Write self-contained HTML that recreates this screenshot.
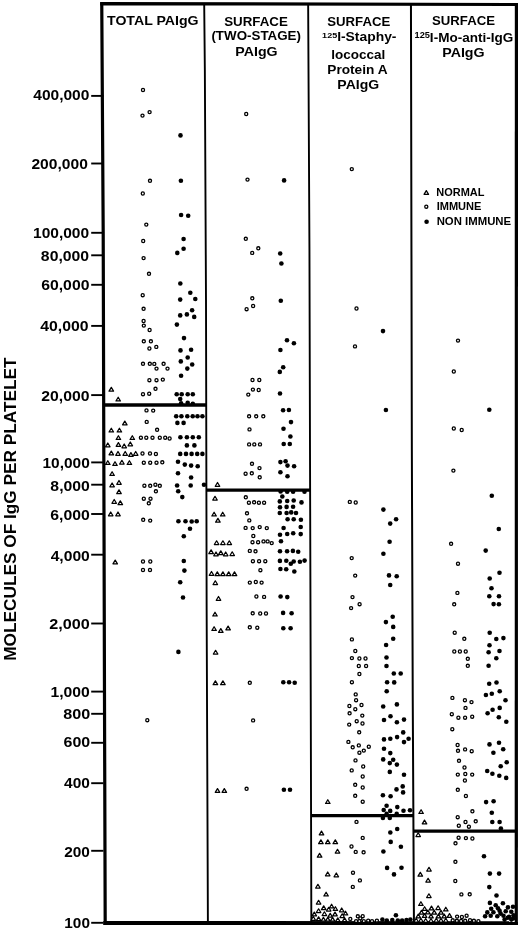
<!DOCTYPE html><html><head><meta charset="utf-8"><style>html,body{margin:0;padding:0;background:#fff;width:520px;height:930px;overflow:hidden}svg{display:block;will-change:transform}text{font-family:"Liberation Sans",sans-serif;font-weight:bold;fill:#000}</style></head><body>
<svg width="520" height="930" viewBox="0 0 520 930">
<rect width="520" height="930" fill="#fff"/>
<g fill="#000">
<polygon points="100.2,2.0 518.0,3.0 518.0,5.9 100.2,5.4"/>
<polygon points="100.15,2.3 101.60,232 102.90,700 103.60,924.9 106.80,924.9 106.10,700 104.80,232 103.35,2.3"/>
<polygon points="514.8,3.1 518.0,3.1 517.9,925 514.7,925"/>
<polygon points="103.3,921.0 517.9,921.2 517.9,925.0 103.3,924.9"/>
</g><g stroke="#000" fill="none">
<polyline points="204.2,4 204.85,70 206.0,300 206.65,610 207.9,923" stroke-width="1.9"/>
<polyline points="308.15,4 309.45,250 310.0,450 310.75,700 311.35,923" stroke-width="1.9"/>
<polyline points="410.95,4 411.85,450 412.75,700 413.95,923" stroke-width="2.0"/>
<line x1="103" y1="405.0" x2="206.3" y2="405.0" stroke-width="3.5"/>
<line x1="206" y1="490.1" x2="310.2" y2="490.1" stroke-width="3.4"/>
<line x1="311" y1="815.6" x2="413.3" y2="815.6" stroke-width="3.3"/>
<line x1="413" y1="831.1" x2="516" y2="831.2" stroke-width="3.2"/>
</g>
<g stroke="#000" stroke-width="1.9">
<line x1="91.2" y1="95.9" x2="103.5" y2="95.9"/>
<line x1="91.2" y1="163.5" x2="103.5" y2="163.5"/>
<line x1="91.2" y1="232.8" x2="103.5" y2="232.8"/>
<line x1="91.2" y1="255.3" x2="103.5" y2="255.3"/>
<line x1="91.2" y1="284.8" x2="103.5" y2="284.8"/>
<line x1="91.2" y1="325.9" x2="103.5" y2="325.9"/>
<line x1="91.2" y1="395.1" x2="103.5" y2="395.1"/>
<line x1="91.2" y1="462.4" x2="103.5" y2="462.4"/>
<line x1="91.2" y1="484.7" x2="103.5" y2="484.7"/>
<line x1="91.2" y1="514.0" x2="103.5" y2="514.0"/>
<line x1="91.2" y1="554.7" x2="103.5" y2="554.7"/>
<line x1="91.2" y1="623.5" x2="103.5" y2="623.5"/>
<line x1="91.2" y1="691.6" x2="103.5" y2="691.6"/>
<line x1="91.2" y1="713.8" x2="103.5" y2="713.8"/>
<line x1="91.2" y1="742.8" x2="103.5" y2="742.8"/>
<line x1="91.2" y1="783.2" x2="103.5" y2="783.2"/>
<line x1="91.2" y1="850.8" x2="103.5" y2="850.8"/>
<line x1="91.2" y1="922.8" x2="103.5" y2="922.8"/>
</g>
<text x="33.27" y="100.47" font-size="15.0" textLength="56.14" lengthAdjust="spacingAndGlyphs">400,000</text>
<text x="31.45" y="168.73" font-size="15.0" textLength="56.41" lengthAdjust="spacingAndGlyphs">200,000</text>
<text x="33.03" y="237.98" font-size="15.0" textLength="56.13" lengthAdjust="spacingAndGlyphs">100,000</text>
<text x="40.89" y="260.52" font-size="15.0" textLength="48.26" lengthAdjust="spacingAndGlyphs">80,000</text>
<text x="41.21" y="289.88" font-size="15.0" textLength="48.24" lengthAdjust="spacingAndGlyphs">60,000</text>
<text x="40.26" y="331.03" font-size="15.0" textLength="48.29" lengthAdjust="spacingAndGlyphs">40,000</text>
<text x="41.25" y="400.68" font-size="15.0" textLength="48.20" lengthAdjust="spacingAndGlyphs">20,000</text>
<text x="42.53" y="467.93" font-size="15.0" textLength="47.30" lengthAdjust="spacingAndGlyphs">10,000</text>
<text x="50.39" y="490.97" font-size="15.0" textLength="39.44" lengthAdjust="spacingAndGlyphs">8,000</text>
<text x="50.31" y="519.88" font-size="15.0" textLength="39.52" lengthAdjust="spacingAndGlyphs">6,000</text>
<text x="50.67" y="560.72" font-size="15.0" textLength="39.16" lengthAdjust="spacingAndGlyphs">4,000</text>
<text x="49.33" y="629.12" font-size="15.0" textLength="40.51" lengthAdjust="spacingAndGlyphs">2,000</text>
<text x="50.52" y="697.27" font-size="15.0" textLength="39.31" lengthAdjust="spacingAndGlyphs">1,000</text>
<text x="63.27" y="718.83" font-size="15.0" textLength="26.99" lengthAdjust="spacingAndGlyphs">800</text>
<text x="63.60" y="747.27" font-size="15.0" textLength="26.65" lengthAdjust="spacingAndGlyphs">600</text>
<text x="64.07" y="788.33" font-size="15.0" textLength="25.76" lengthAdjust="spacingAndGlyphs">400</text>
<text x="64.16" y="857.12" font-size="15.0" textLength="25.67" lengthAdjust="spacingAndGlyphs">200</text>
<text x="64.34" y="927.72" font-size="15.0" textLength="25.59" lengthAdjust="spacingAndGlyphs">100</text>
<text transform="rotate(-90)" x="-660.76" y="16.1" font-size="16.8" textLength="303.25" lengthAdjust="spacingAndGlyphs">MOLECULES OF IgG PER PLATELET</text>
<text x="107.02" y="24.80" font-size="13.0" textLength="91.55" lengthAdjust="spacingAndGlyphs">TOTAL PAIgG</text>
<text x="224.20" y="25.60" font-size="13.2" textLength="63.71" lengthAdjust="spacingAndGlyphs">SURFACE</text>
<text x="211.43" y="40.30" font-size="13.0" textLength="89.53" lengthAdjust="spacingAndGlyphs">(TWO-STAGE)</text>
<text x="235.34" y="55.50" font-size="13.2" textLength="42.26" lengthAdjust="spacingAndGlyphs">PAIgG</text>
<text x="327.20" y="25.60" font-size="13.2" textLength="63.10" lengthAdjust="spacingAndGlyphs">SURFACE</text>
<text x="322.14" y="37.60" font-size="7.6" textLength="15.02" lengthAdjust="spacingAndGlyphs">125</text>
<text x="337.16" y="40.70" font-size="12.3" textLength="59.30" lengthAdjust="spacingAndGlyphs">I-Staphy-</text>
<text x="331.26" y="58.50" font-size="12.6" textLength="53.98" lengthAdjust="spacingAndGlyphs">lococcal</text>
<text x="327.28" y="73.70" font-size="12.6" textLength="60.30" lengthAdjust="spacingAndGlyphs">Protein A</text>
<text x="337.35" y="88.80" font-size="12.6" textLength="41.85" lengthAdjust="spacingAndGlyphs">PAIgG</text>
<text x="432.00" y="25.40" font-size="13.0" textLength="63.00" lengthAdjust="spacingAndGlyphs">SURFACE</text>
<text x="414.52" y="38.40" font-size="8.2" textLength="15.44" lengthAdjust="spacingAndGlyphs">125</text>
<text x="429.89" y="41.60" font-size="13.4" textLength="83.36" lengthAdjust="spacingAndGlyphs">I-Mo-anti-IgG</text>
<text x="442.24" y="56.50" font-size="13.0" textLength="42.37" lengthAdjust="spacingAndGlyphs">PAIgG</text>
<text x="436.26" y="195.80" font-size="11.4" textLength="48.18" lengthAdjust="spacingAndGlyphs">NORMAL</text>
<text x="436.65" y="210.30" font-size="11.4" textLength="44.79" lengthAdjust="spacingAndGlyphs">IMMUNE</text>
<text x="436.63" y="225.30" font-size="11.4" textLength="74.53" lengthAdjust="spacingAndGlyphs">NON IMMUNE</text>
<g fill="#fff" stroke="#000" stroke-width="1.25" stroke-linejoin="round">
<path d="M111.30 387.40L113.55 391.15L109.05 391.15Z"/>
<path d="M118.20 397.20L120.45 400.95L115.95 400.95Z"/>
<path d="M124.80 421.10L127.05 424.85L122.55 424.85Z"/>
<path d="M111.30 428.20L113.55 431.95L109.05 431.95Z"/>
<path d="M119.40 428.20L121.65 431.95L117.15 431.95Z"/>
<path d="M118.40 435.70L120.65 439.45L116.15 439.45Z"/>
<path d="M132.30 435.70L134.55 439.45L130.05 439.45Z"/>
<path d="M107.80 443.00L110.05 446.75L105.55 446.75Z"/>
<path d="M118.40 442.60L120.65 446.35L116.15 446.35Z"/>
<path d="M124.20 444.00L126.45 447.75L121.95 447.75Z"/>
<path d="M130.30 442.00L132.55 445.75L128.05 445.75Z"/>
<path d="M111.30 451.10L113.55 454.85L109.05 454.85Z"/>
<path d="M118.00 451.50L120.25 455.25L115.75 455.25Z"/>
<path d="M125.20 451.50L127.45 455.25L122.95 455.25Z"/>
<path d="M130.90 452.60L133.15 456.35L128.65 456.35Z"/>
<path d="M135.70 451.50L137.95 455.25L133.45 455.25Z"/>
<path d="M107.80 460.70L110.05 464.45L105.55 464.45Z"/>
<path d="M115.00 461.70L117.25 465.45L112.75 465.45Z"/>
<path d="M121.90 460.30L124.15 464.05L119.65 464.05Z"/>
<path d="M129.40 460.70L131.65 464.45L127.15 464.45Z"/>
<path d="M112.10 471.70L114.35 475.45L109.85 475.45Z"/>
<path d="M112.10 483.00L114.35 486.75L109.85 486.75Z"/>
<path d="M119.00 480.50L121.25 484.25L116.75 484.25Z"/>
<path d="M119.00 489.90L121.25 493.65L116.75 493.65Z"/>
<path d="M114.20 499.50L116.45 503.25L111.95 503.25Z"/>
<path d="M120.30 500.90L122.55 504.65L118.05 504.65Z"/>
<path d="M110.70 512.00L112.95 515.75L108.45 515.75Z"/>
<path d="M118.00 512.00L120.25 515.75L115.75 515.75Z"/>
<path d="M115.20 560.10L117.45 563.85L112.95 563.85Z"/>
<path d="M217.50 482.50L219.75 486.25L215.25 486.25Z"/>
<path d="M215.00 496.30L217.25 500.05L212.75 500.05Z"/>
<path d="M214.10 512.20L216.35 515.95L211.85 515.95Z"/>
<path d="M222.70 512.20L224.95 515.95L220.45 515.95Z"/>
<path d="M217.90 518.40L220.15 522.15L215.65 522.15Z"/>
<path d="M216.60 540.80L218.85 544.55L214.35 544.55Z"/>
<path d="M222.90 540.80L225.15 544.55L220.65 544.55Z"/>
<path d="M229.30 540.80L231.55 544.55L227.05 544.55Z"/>
<path d="M211.10 549.90L213.35 553.65L208.85 553.65Z"/>
<path d="M216.00 552.00L218.25 555.75L213.75 555.75Z"/>
<path d="M220.80 550.90L223.05 554.65L218.55 554.65Z"/>
<path d="M225.70 552.00L227.95 555.75L223.45 555.75Z"/>
<path d="M232.20 551.80L234.45 555.55L229.95 555.55Z"/>
<path d="M211.50 571.50L213.75 575.25L209.25 575.25Z"/>
<path d="M217.30 571.90L219.55 575.65L215.05 575.65Z"/>
<path d="M222.90 571.90L225.15 575.65L220.65 575.65Z"/>
<path d="M228.70 571.90L230.95 575.65L226.45 575.65Z"/>
<path d="M234.50 571.90L236.75 575.65L232.25 575.65Z"/>
<path d="M215.30 580.80L217.55 584.55L213.05 584.55Z"/>
<path d="M218.50 596.50L220.75 600.25L216.25 600.25Z"/>
<path d="M215.00 612.20L217.25 615.95L212.75 615.95Z"/>
<path d="M214.10 626.70L216.35 630.45L211.85 630.45Z"/>
<path d="M220.80 628.60L223.05 632.35L218.55 632.35Z"/>
<path d="M228.10 626.10L230.35 629.85L225.85 629.85Z"/>
<path d="M215.60 650.30L217.85 654.05L213.35 654.05Z"/>
<path d="M215.40 680.90L217.65 684.65L213.15 684.65Z"/>
<path d="M222.90 680.90L225.15 684.65L220.65 684.65Z"/>
<path d="M217.50 788.60L219.75 792.35L215.25 792.35Z"/>
<path d="M224.30 788.60L226.55 792.35L222.05 792.35Z"/>
<path d="M327.80 799.70L330.05 803.45L325.55 803.45Z"/>
<path d="M321.50 831.10L323.75 834.85L319.25 834.85Z"/>
<path d="M320.90 839.90L323.15 843.65L318.65 843.65Z"/>
<path d="M327.80 839.90L330.05 843.65L325.55 843.65Z"/>
<path d="M335.30 839.90L337.55 843.65L333.05 843.65Z"/>
<path d="M337.50 849.30L339.75 853.05L335.25 853.05Z"/>
<path d="M319.60 853.40L321.85 857.15L317.35 857.15Z"/>
<path d="M327.70 872.00L329.95 875.75L325.45 875.75Z"/>
<path d="M336.30 873.00L338.55 876.75L334.05 876.75Z"/>
<path d="M317.90 884.30L320.15 888.05L315.65 888.05Z"/>
<path d="M326.10 892.20L328.35 895.95L323.85 895.95Z"/>
<path d="M318.60 900.30L320.85 904.05L316.35 904.05Z"/>
<path d="M323.70 905.90L325.95 909.65L321.45 909.65Z"/>
<path d="M331.60 904.20L333.85 907.95L329.35 907.95Z"/>
<path d="M328.70 907.30L330.95 911.05L326.45 911.05Z"/>
<path d="M335.40 906.70L337.65 910.45L333.15 910.45Z"/>
<path d="M341.70 908.00L343.95 911.75L339.45 911.75Z"/>
<path d="M318.60 908.80L320.85 912.55L316.35 912.55Z"/>
<path d="M345.50 911.20L347.75 914.95L343.25 914.95Z"/>
<path d="M314.30 912.10L316.55 915.85L312.05 915.85Z"/>
<path d="M324.40 911.80L326.65 915.55L322.15 915.55Z"/>
<path d="M330.20 913.40L332.45 917.15L327.95 917.15Z"/>
<path d="M335.00 912.10L337.25 915.85L332.75 915.85Z"/>
<path d="M342.20 913.80L344.45 917.55L339.95 917.55Z"/>
<path d="M313.30 916.50L315.55 920.25L311.05 920.25Z"/>
<path d="M318.60 916.90L320.85 920.65L316.35 920.65Z"/>
<path d="M323.40 917.40L325.65 921.15L321.15 921.15Z"/>
<path d="M327.80 917.40L330.05 921.15L325.55 921.15Z"/>
<path d="M332.60 917.40L334.85 921.15L330.35 921.15Z"/>
<path d="M337.80 917.90L340.05 921.65L335.55 921.65Z"/>
<path d="M344.60 917.90L346.85 921.65L342.35 921.65Z"/>
<path d="M421.10 809.70L423.35 813.45L418.85 813.45Z"/>
<path d="M424.50 820.10L426.75 823.85L422.25 823.85Z"/>
<path d="M418.20 832.80L420.45 836.55L415.95 836.55Z"/>
<path d="M429.00 867.30L431.25 871.05L426.75 871.05Z"/>
<path d="M420.30 872.40L422.55 876.15L418.05 876.15Z"/>
<path d="M428.10 878.30L430.35 882.05L425.85 882.05Z"/>
<path d="M428.90 893.80L431.15 897.55L426.65 897.55Z"/>
<path d="M420.90 901.70L423.15 905.45L418.65 905.45Z"/>
<path d="M424.60 906.70L426.85 910.45L422.35 910.45Z"/>
<path d="M431.50 906.10L433.75 909.85L429.25 909.85Z"/>
<path d="M438.10 905.80L440.35 909.55L435.85 909.55Z"/>
<path d="M445.80 907.20L448.05 910.95L443.55 910.95Z"/>
<path d="M421.50 910.40L423.75 914.15L419.25 914.15Z"/>
<path d="M427.80 910.10L430.05 913.85L425.55 913.85Z"/>
<path d="M434.20 910.40L436.45 914.15L431.95 914.15Z"/>
<path d="M441.00 910.40L443.25 914.15L438.75 914.15Z"/>
<path d="M418.30 914.10L420.55 917.85L416.05 917.85Z"/>
<path d="M424.60 913.60L426.85 917.35L422.35 917.35Z"/>
<path d="M431.00 914.10L433.25 917.85L428.75 917.85Z"/>
<path d="M438.40 914.10L440.65 917.85L436.15 917.85Z"/>
<path d="M444.20 914.10L446.45 917.85L441.95 917.85Z"/>
<path d="M449.50 913.60L451.75 917.35L447.25 917.35Z"/>
<path d="M416.20 918.30L418.45 922.05L413.95 922.05Z"/>
<path d="M420.90 918.30L423.15 922.05L418.65 922.05Z"/>
<path d="M425.70 918.50L427.95 922.25L423.45 922.25Z"/>
<path d="M431.00 918.50L433.25 922.25L428.75 922.25Z"/>
<path d="M436.30 918.30L438.55 922.05L434.05 922.05Z"/>
<path d="M441.00 918.30L443.25 922.05L438.75 922.05Z"/>
<path d="M445.80 918.30L448.05 922.05L443.55 922.05Z"/>
<path d="M426.30 190.60L428.55 194.35L424.05 194.35Z"/>
</g>
<g fill="#fff" stroke="#000" stroke-width="1.3">
<circle cx="143.0" cy="90.0" r="1.55"/>
<circle cx="149.6" cy="112.1" r="1.55"/>
<circle cx="142.5" cy="115.6" r="1.55"/>
<circle cx="150.0" cy="180.8" r="1.55"/>
<circle cx="142.8" cy="193.5" r="1.55"/>
<circle cx="146.3" cy="224.6" r="1.55"/>
<circle cx="143.2" cy="241.0" r="1.55"/>
<circle cx="143.6" cy="258.1" r="1.55"/>
<circle cx="149.0" cy="273.8" r="1.55"/>
<circle cx="142.7" cy="295.2" r="1.55"/>
<circle cx="143.6" cy="308.8" r="1.55"/>
<circle cx="143.6" cy="321.0" r="1.55"/>
<circle cx="143.8" cy="325.6" r="1.55"/>
<circle cx="149.6" cy="330.0" r="1.55"/>
<circle cx="143.8" cy="341.3" r="1.55"/>
<circle cx="150.9" cy="341.3" r="1.55"/>
<circle cx="149.4" cy="348.5" r="1.55"/>
<circle cx="156.3" cy="346.9" r="1.55"/>
<circle cx="143.0" cy="363.8" r="1.55"/>
<circle cx="149.8" cy="363.8" r="1.55"/>
<circle cx="154.3" cy="363.9" r="1.55"/>
<circle cx="163.6" cy="363.8" r="1.55"/>
<circle cx="156.5" cy="368.6" r="1.55"/>
<circle cx="167.5" cy="368.6" r="1.55"/>
<circle cx="149.4" cy="380.2" r="1.55"/>
<circle cx="156.5" cy="380.2" r="1.55"/>
<circle cx="162.8" cy="379.6" r="1.55"/>
<circle cx="155.5" cy="388.8" r="1.55"/>
<circle cx="143.0" cy="394.2" r="1.55"/>
<circle cx="149.2" cy="393.7" r="1.55"/>
<circle cx="146.5" cy="410.4" r="1.55"/>
<circle cx="153.2" cy="410.6" r="1.55"/>
<circle cx="146.7" cy="421.9" r="1.55"/>
<circle cx="157.1" cy="429.8" r="1.55"/>
<circle cx="140.9" cy="437.7" r="1.55"/>
<circle cx="146.3" cy="437.7" r="1.55"/>
<circle cx="152.5" cy="437.7" r="1.55"/>
<circle cx="159.8" cy="437.7" r="1.55"/>
<circle cx="165.2" cy="437.7" r="1.55"/>
<circle cx="169.6" cy="438.5" r="1.55"/>
<circle cx="142.5" cy="453.5" r="1.55"/>
<circle cx="150.0" cy="453.5" r="1.55"/>
<circle cx="155.9" cy="454.0" r="1.55"/>
<circle cx="143.8" cy="462.7" r="1.55"/>
<circle cx="150.2" cy="462.7" r="1.55"/>
<circle cx="156.5" cy="462.7" r="1.55"/>
<circle cx="162.3" cy="462.3" r="1.55"/>
<circle cx="144.4" cy="485.7" r="1.55"/>
<circle cx="150.2" cy="485.8" r="1.55"/>
<circle cx="155.4" cy="484.7" r="1.55"/>
<circle cx="159.8" cy="485.8" r="1.55"/>
<circle cx="155.9" cy="491.3" r="1.55"/>
<circle cx="143.8" cy="498.7" r="1.55"/>
<circle cx="150.5" cy="498.7" r="1.55"/>
<circle cx="148.8" cy="503.3" r="1.55"/>
<circle cx="143.2" cy="519.8" r="1.55"/>
<circle cx="150.2" cy="520.6" r="1.55"/>
<circle cx="143.0" cy="561.5" r="1.55"/>
<circle cx="150.3" cy="561.5" r="1.55"/>
<circle cx="143.0" cy="570.0" r="1.55"/>
<circle cx="150.0" cy="570.0" r="1.55"/>
<circle cx="147.3" cy="720.2" r="1.55"/>
<circle cx="246.2" cy="114.0" r="1.55"/>
<circle cx="247.5" cy="179.6" r="1.55"/>
<circle cx="245.8" cy="238.8" r="1.55"/>
<circle cx="258.3" cy="248.3" r="1.55"/>
<circle cx="252.2" cy="252.9" r="1.55"/>
<circle cx="252.3" cy="298.3" r="1.55"/>
<circle cx="253.1" cy="306.0" r="1.55"/>
<circle cx="246.6" cy="309.2" r="1.55"/>
<circle cx="252.5" cy="380.0" r="1.55"/>
<circle cx="259.3" cy="380.0" r="1.55"/>
<circle cx="252.9" cy="389.6" r="1.55"/>
<circle cx="258.7" cy="390.0" r="1.55"/>
<circle cx="248.3" cy="394.6" r="1.55"/>
<circle cx="249.1" cy="416.3" r="1.55"/>
<circle cx="256.2" cy="416.3" r="1.55"/>
<circle cx="263.3" cy="416.3" r="1.55"/>
<circle cx="249.5" cy="429.4" r="1.55"/>
<circle cx="249.1" cy="444.4" r="1.55"/>
<circle cx="254.3" cy="444.4" r="1.55"/>
<circle cx="260.0" cy="444.4" r="1.55"/>
<circle cx="252.0" cy="463.8" r="1.55"/>
<circle cx="259.5" cy="468.1" r="1.55"/>
<circle cx="245.6" cy="473.7" r="1.55"/>
<circle cx="251.8" cy="473.3" r="1.55"/>
<circle cx="259.7" cy="477.3" r="1.55"/>
<circle cx="245.8" cy="497.3" r="1.55"/>
<circle cx="248.9" cy="502.7" r="1.55"/>
<circle cx="254.1" cy="502.3" r="1.55"/>
<circle cx="258.9" cy="502.7" r="1.55"/>
<circle cx="264.1" cy="502.7" r="1.55"/>
<circle cx="247.0" cy="513.3" r="1.55"/>
<circle cx="249.3" cy="520.4" r="1.55"/>
<circle cx="245.6" cy="527.9" r="1.55"/>
<circle cx="252.7" cy="528.1" r="1.55"/>
<circle cx="259.7" cy="527.1" r="1.55"/>
<circle cx="266.8" cy="528.1" r="1.55"/>
<circle cx="253.3" cy="536.0" r="1.55"/>
<circle cx="252.5" cy="542.2" r="1.55"/>
<circle cx="258.1" cy="542.2" r="1.55"/>
<circle cx="263.5" cy="541.4" r="1.55"/>
<circle cx="267.6" cy="541.4" r="1.55"/>
<circle cx="271.7" cy="543.1" r="1.55"/>
<circle cx="249.8" cy="550.9" r="1.55"/>
<circle cx="255.5" cy="551.3" r="1.55"/>
<circle cx="252.9" cy="561.2" r="1.55"/>
<circle cx="259.1" cy="561.2" r="1.55"/>
<circle cx="265.3" cy="561.2" r="1.55"/>
<circle cx="260.4" cy="570.2" r="1.55"/>
<circle cx="249.8" cy="582.6" r="1.55"/>
<circle cx="255.8" cy="582.0" r="1.55"/>
<circle cx="261.6" cy="582.6" r="1.55"/>
<circle cx="256.4" cy="596.5" r="1.55"/>
<circle cx="264.1" cy="596.9" r="1.55"/>
<circle cx="252.7" cy="613.3" r="1.55"/>
<circle cx="260.2" cy="613.5" r="1.55"/>
<circle cx="266.0" cy="613.5" r="1.55"/>
<circle cx="249.8" cy="627.3" r="1.55"/>
<circle cx="257.3" cy="627.7" r="1.55"/>
<circle cx="249.8" cy="682.8" r="1.55"/>
<circle cx="253.1" cy="720.4" r="1.55"/>
<circle cx="246.6" cy="788.8" r="1.55"/>
<circle cx="351.8" cy="169.1" r="1.55"/>
<circle cx="356.5" cy="308.5" r="1.55"/>
<circle cx="355.0" cy="346.4" r="1.55"/>
<circle cx="349.8" cy="501.9" r="1.55"/>
<circle cx="355.7" cy="502.5" r="1.55"/>
<circle cx="351.7" cy="558.1" r="1.55"/>
<circle cx="355.2" cy="575.6" r="1.55"/>
<circle cx="352.5" cy="597.1" r="1.55"/>
<circle cx="359.6" cy="604.2" r="1.55"/>
<circle cx="351.1" cy="608.1" r="1.55"/>
<circle cx="351.9" cy="639.4" r="1.55"/>
<circle cx="355.3" cy="651.0" r="1.55"/>
<circle cx="351.9" cy="658.1" r="1.55"/>
<circle cx="359.4" cy="658.5" r="1.55"/>
<circle cx="365.5" cy="658.5" r="1.55"/>
<circle cx="358.8" cy="666.0" r="1.55"/>
<circle cx="366.1" cy="666.0" r="1.55"/>
<circle cx="359.4" cy="674.0" r="1.55"/>
<circle cx="351.9" cy="682.2" r="1.55"/>
<circle cx="355.7" cy="694.4" r="1.55"/>
<circle cx="356.1" cy="700.2" r="1.55"/>
<circle cx="349.4" cy="706.0" r="1.55"/>
<circle cx="361.5" cy="705.0" r="1.55"/>
<circle cx="355.3" cy="709.2" r="1.55"/>
<circle cx="349.6" cy="713.3" r="1.55"/>
<circle cx="362.3" cy="715.6" r="1.55"/>
<circle cx="349.2" cy="724.6" r="1.55"/>
<circle cx="356.7" cy="721.2" r="1.55"/>
<circle cx="362.5" cy="723.5" r="1.55"/>
<circle cx="359.2" cy="732.3" r="1.55"/>
<circle cx="348.4" cy="741.9" r="1.55"/>
<circle cx="352.7" cy="747.3" r="1.55"/>
<circle cx="358.8" cy="745.4" r="1.55"/>
<circle cx="368.8" cy="746.7" r="1.55"/>
<circle cx="359.4" cy="752.7" r="1.55"/>
<circle cx="363.8" cy="750.6" r="1.55"/>
<circle cx="355.5" cy="760.4" r="1.55"/>
<circle cx="363.2" cy="766.5" r="1.55"/>
<circle cx="351.7" cy="770.4" r="1.55"/>
<circle cx="362.7" cy="776.5" r="1.55"/>
<circle cx="355.2" cy="784.8" r="1.55"/>
<circle cx="362.7" cy="787.5" r="1.55"/>
<circle cx="355.2" cy="795.8" r="1.55"/>
<circle cx="362.7" cy="801.7" r="1.55"/>
<circle cx="356.5" cy="821.9" r="1.55"/>
<circle cx="362.7" cy="837.9" r="1.55"/>
<circle cx="351.5" cy="846.5" r="1.55"/>
<circle cx="355.7" cy="851.9" r="1.55"/>
<circle cx="363.6" cy="852.3" r="1.55"/>
<circle cx="353.0" cy="872.7" r="1.55"/>
<circle cx="359.9" cy="880.4" r="1.55"/>
<circle cx="352.8" cy="886.9" r="1.55"/>
<circle cx="350.3" cy="918.9" r="1.55"/>
<circle cx="357.8" cy="916.3" r="1.55"/>
<circle cx="362.7" cy="916.2" r="1.55"/>
<circle cx="360.3" cy="918.4" r="1.55"/>
<circle cx="356.1" cy="921.1" r="1.55"/>
<circle cx="359.4" cy="921.1" r="1.55"/>
<circle cx="363.8" cy="921.1" r="1.55"/>
<circle cx="368.2" cy="920.6" r="1.55"/>
<circle cx="372.0" cy="921.1" r="1.55"/>
<circle cx="376.9" cy="920.6" r="1.55"/>
<circle cx="458.0" cy="340.6" r="1.55"/>
<circle cx="453.8" cy="371.5" r="1.55"/>
<circle cx="453.8" cy="428.5" r="1.55"/>
<circle cx="461.7" cy="430.0" r="1.55"/>
<circle cx="453.4" cy="470.6" r="1.55"/>
<circle cx="451.1" cy="543.8" r="1.55"/>
<circle cx="458.0" cy="563.7" r="1.55"/>
<circle cx="457.4" cy="592.9" r="1.55"/>
<circle cx="454.2" cy="604.3" r="1.55"/>
<circle cx="454.7" cy="632.7" r="1.55"/>
<circle cx="464.3" cy="638.8" r="1.55"/>
<circle cx="454.3" cy="651.5" r="1.55"/>
<circle cx="459.9" cy="651.5" r="1.55"/>
<circle cx="465.7" cy="651.5" r="1.55"/>
<circle cx="467.8" cy="658.8" r="1.55"/>
<circle cx="467.8" cy="665.8" r="1.55"/>
<circle cx="452.4" cy="697.9" r="1.55"/>
<circle cx="464.9" cy="700.2" r="1.55"/>
<circle cx="471.5" cy="702.1" r="1.55"/>
<circle cx="465.5" cy="707.9" r="1.55"/>
<circle cx="451.8" cy="714.2" r="1.55"/>
<circle cx="458.4" cy="717.7" r="1.55"/>
<circle cx="465.1" cy="717.7" r="1.55"/>
<circle cx="472.2" cy="716.7" r="1.55"/>
<circle cx="452.3" cy="729.2" r="1.55"/>
<circle cx="457.6" cy="745.0" r="1.55"/>
<circle cx="458.0" cy="750.8" r="1.55"/>
<circle cx="465.1" cy="749.4" r="1.55"/>
<circle cx="471.7" cy="751.2" r="1.55"/>
<circle cx="459.0" cy="760.8" r="1.55"/>
<circle cx="464.5" cy="767.5" r="1.55"/>
<circle cx="457.8" cy="774.6" r="1.55"/>
<circle cx="465.3" cy="774.0" r="1.55"/>
<circle cx="472.2" cy="774.6" r="1.55"/>
<circle cx="464.9" cy="780.5" r="1.55"/>
<circle cx="457.8" cy="789.8" r="1.55"/>
<circle cx="465.9" cy="796.0" r="1.55"/>
<circle cx="472.4" cy="811.3" r="1.55"/>
<circle cx="457.7" cy="817.2" r="1.55"/>
<circle cx="465.5" cy="822.0" r="1.55"/>
<circle cx="475.7" cy="821.3" r="1.55"/>
<circle cx="458.8" cy="825.7" r="1.55"/>
<circle cx="468.9" cy="826.7" r="1.55"/>
<circle cx="458.6" cy="837.7" r="1.55"/>
<circle cx="465.9" cy="838.1" r="1.55"/>
<circle cx="472.4" cy="838.5" r="1.55"/>
<circle cx="455.5" cy="843.3" r="1.55"/>
<circle cx="455.4" cy="861.8" r="1.55"/>
<circle cx="455.3" cy="881.0" r="1.55"/>
<circle cx="461.4" cy="894.4" r="1.55"/>
<circle cx="469.7" cy="894.3" r="1.55"/>
<circle cx="452.7" cy="920.3" r="1.55"/>
<circle cx="457.1" cy="916.6" r="1.55"/>
<circle cx="461.9" cy="917.0" r="1.55"/>
<circle cx="466.6" cy="915.7" r="1.55"/>
<circle cx="456.9" cy="920.8" r="1.55"/>
<circle cx="461.1" cy="921.0" r="1.55"/>
<circle cx="465.2" cy="920.8" r="1.55"/>
<circle cx="470.0" cy="920.2" r="1.55"/>
<circle cx="473.9" cy="920.8" r="1.55"/>
<circle cx="478.4" cy="921.1" r="1.55"/>
<circle cx="426.3" cy="206.7" r="1.55"/>
</g>
<g fill="#000">
<circle cx="180.5" cy="135.4" r="2.3"/>
<circle cx="180.9" cy="180.8" r="2.3"/>
<circle cx="181.1" cy="215.0" r="2.3"/>
<circle cx="188.2" cy="215.8" r="2.3"/>
<circle cx="183.6" cy="239.0" r="2.3"/>
<circle cx="183.6" cy="248.8" r="2.3"/>
<circle cx="177.3" cy="252.9" r="2.3"/>
<circle cx="180.3" cy="283.5" r="2.3"/>
<circle cx="190.3" cy="292.7" r="2.3"/>
<circle cx="180.2" cy="299.6" r="2.3"/>
<circle cx="195.3" cy="299.0" r="2.3"/>
<circle cx="192.1" cy="310.2" r="2.3"/>
<circle cx="180.2" cy="315.4" r="2.3"/>
<circle cx="186.9" cy="314.4" r="2.3"/>
<circle cx="194.2" cy="316.9" r="2.3"/>
<circle cx="176.9" cy="324.6" r="2.3"/>
<circle cx="184.0" cy="338.1" r="2.3"/>
<circle cx="180.5" cy="350.4" r="2.3"/>
<circle cx="191.1" cy="349.8" r="2.3"/>
<circle cx="187.7" cy="357.5" r="2.3"/>
<circle cx="180.8" cy="361.4" r="2.3"/>
<circle cx="192.2" cy="364.5" r="2.3"/>
<circle cx="187.3" cy="368.6" r="2.3"/>
<circle cx="181.1" cy="375.8" r="2.3"/>
<circle cx="176.7" cy="394.2" r="2.3"/>
<circle cx="181.7" cy="394.2" r="2.3"/>
<circle cx="187.7" cy="394.2" r="2.3"/>
<circle cx="192.8" cy="394.2" r="2.3"/>
<circle cx="180.2" cy="399.0" r="2.3"/>
<circle cx="181.1" cy="403.3" r="2.3"/>
<circle cx="187.7" cy="402.7" r="2.3"/>
<circle cx="192.8" cy="403.8" r="2.3"/>
<circle cx="176.2" cy="416.2" r="2.3"/>
<circle cx="181.4" cy="416.2" r="2.3"/>
<circle cx="187.3" cy="416.2" r="2.3"/>
<circle cx="192.7" cy="416.2" r="2.3"/>
<circle cx="197.5" cy="416.2" r="2.3"/>
<circle cx="202.4" cy="416.2" r="2.3"/>
<circle cx="177.4" cy="422.9" r="2.3"/>
<circle cx="183.6" cy="422.9" r="2.3"/>
<circle cx="180.4" cy="437.2" r="2.3"/>
<circle cx="186.9" cy="437.2" r="2.3"/>
<circle cx="192.8" cy="437.2" r="2.3"/>
<circle cx="198.8" cy="437.2" r="2.3"/>
<circle cx="186.9" cy="445.4" r="2.3"/>
<circle cx="194.4" cy="445.4" r="2.3"/>
<circle cx="180.2" cy="453.9" r="2.3"/>
<circle cx="186.0" cy="453.9" r="2.3"/>
<circle cx="191.6" cy="453.9" r="2.3"/>
<circle cx="197.2" cy="453.9" r="2.3"/>
<circle cx="202.4" cy="453.9" r="2.3"/>
<circle cx="178.0" cy="461.7" r="2.3"/>
<circle cx="184.8" cy="464.6" r="2.3"/>
<circle cx="191.1" cy="465.6" r="2.3"/>
<circle cx="197.7" cy="466.2" r="2.3"/>
<circle cx="178.0" cy="473.3" r="2.3"/>
<circle cx="191.1" cy="477.5" r="2.3"/>
<circle cx="177.1" cy="485.5" r="2.3"/>
<circle cx="190.7" cy="485.5" r="2.3"/>
<circle cx="204.0" cy="484.7" r="2.3"/>
<circle cx="178.2" cy="491.3" r="2.3"/>
<circle cx="182.3" cy="497.1" r="2.3"/>
<circle cx="178.4" cy="521.2" r="2.3"/>
<circle cx="185.5" cy="521.2" r="2.3"/>
<circle cx="191.7" cy="521.5" r="2.3"/>
<circle cx="196.7" cy="521.2" r="2.3"/>
<circle cx="190.0" cy="528.8" r="2.3"/>
<circle cx="183.8" cy="536.2" r="2.3"/>
<circle cx="183.8" cy="561.0" r="2.3"/>
<circle cx="184.4" cy="570.6" r="2.3"/>
<circle cx="180.2" cy="582.3" r="2.3"/>
<circle cx="183.0" cy="597.5" r="2.3"/>
<circle cx="178.4" cy="651.9" r="2.3"/>
<circle cx="284.1" cy="180.4" r="2.3"/>
<circle cx="280.2" cy="253.5" r="2.3"/>
<circle cx="281.4" cy="263.5" r="2.3"/>
<circle cx="280.8" cy="300.8" r="2.3"/>
<circle cx="287.0" cy="340.2" r="2.3"/>
<circle cx="293.9" cy="343.3" r="2.3"/>
<circle cx="280.4" cy="350.0" r="2.3"/>
<circle cx="283.2" cy="367.2" r="2.3"/>
<circle cx="279.8" cy="371.9" r="2.3"/>
<circle cx="280.0" cy="393.5" r="2.3"/>
<circle cx="283.1" cy="410.2" r="2.3"/>
<circle cx="288.9" cy="410.0" r="2.3"/>
<circle cx="291.0" cy="422.1" r="2.3"/>
<circle cx="283.5" cy="428.8" r="2.3"/>
<circle cx="290.4" cy="436.5" r="2.3"/>
<circle cx="283.7" cy="444.0" r="2.3"/>
<circle cx="289.8" cy="444.0" r="2.3"/>
<circle cx="280.4" cy="462.1" r="2.3"/>
<circle cx="285.6" cy="461.3" r="2.3"/>
<circle cx="287.5" cy="465.6" r="2.3"/>
<circle cx="294.1" cy="466.2" r="2.3"/>
<circle cx="280.4" cy="472.3" r="2.3"/>
<circle cx="287.5" cy="476.2" r="2.3"/>
<circle cx="280.6" cy="491.4" r="2.3"/>
<circle cx="287.2" cy="491.8" r="2.3"/>
<circle cx="293.1" cy="491.7" r="2.3"/>
<circle cx="304.5" cy="491.8" r="2.3"/>
<circle cx="282.3" cy="496.5" r="2.3"/>
<circle cx="279.8" cy="501.4" r="2.3"/>
<circle cx="287.2" cy="501.0" r="2.3"/>
<circle cx="293.7" cy="500.5" r="2.3"/>
<circle cx="301.5" cy="502.4" r="2.3"/>
<circle cx="280.0" cy="507.2" r="2.3"/>
<circle cx="286.6" cy="506.9" r="2.3"/>
<circle cx="293.1" cy="506.7" r="2.3"/>
<circle cx="279.8" cy="513.0" r="2.3"/>
<circle cx="286.6" cy="513.0" r="2.3"/>
<circle cx="291.2" cy="512.4" r="2.3"/>
<circle cx="296.0" cy="513.0" r="2.3"/>
<circle cx="287.6" cy="519.3" r="2.3"/>
<circle cx="293.7" cy="519.3" r="2.3"/>
<circle cx="300.9" cy="519.8" r="2.3"/>
<circle cx="283.6" cy="528.0" r="2.3"/>
<circle cx="300.7" cy="527.0" r="2.3"/>
<circle cx="280.0" cy="534.8" r="2.3"/>
<circle cx="287.2" cy="534.0" r="2.3"/>
<circle cx="293.2" cy="533.3" r="2.3"/>
<circle cx="300.7" cy="534.1" r="2.3"/>
<circle cx="281.0" cy="541.3" r="2.3"/>
<circle cx="280.0" cy="551.3" r="2.3"/>
<circle cx="287.1" cy="551.3" r="2.3"/>
<circle cx="292.9" cy="550.9" r="2.3"/>
<circle cx="298.2" cy="551.8" r="2.3"/>
<circle cx="279.9" cy="560.9" r="2.3"/>
<circle cx="286.3" cy="560.7" r="2.3"/>
<circle cx="290.8" cy="563.7" r="2.3"/>
<circle cx="293.7" cy="561.5" r="2.3"/>
<circle cx="299.9" cy="561.8" r="2.3"/>
<circle cx="304.6" cy="560.6" r="2.3"/>
<circle cx="280.4" cy="569.0" r="2.3"/>
<circle cx="286.2" cy="569.3" r="2.3"/>
<circle cx="294.3" cy="571.5" r="2.3"/>
<circle cx="280.6" cy="596.5" r="2.3"/>
<circle cx="287.3" cy="597.1" r="2.3"/>
<circle cx="283.1" cy="612.9" r="2.3"/>
<circle cx="291.6" cy="613.3" r="2.3"/>
<circle cx="283.3" cy="628.3" r="2.3"/>
<circle cx="290.6" cy="628.3" r="2.3"/>
<circle cx="283.3" cy="682.3" r="2.3"/>
<circle cx="289.1" cy="682.3" r="2.3"/>
<circle cx="294.7" cy="682.7" r="2.3"/>
<circle cx="283.9" cy="789.8" r="2.3"/>
<circle cx="290.0" cy="789.8" r="2.3"/>
<circle cx="383.0" cy="331.1" r="2.3"/>
<circle cx="385.9" cy="410.0" r="2.3"/>
<circle cx="383.4" cy="509.6" r="2.3"/>
<circle cx="396.1" cy="519.2" r="2.3"/>
<circle cx="390.2" cy="523.6" r="2.3"/>
<circle cx="389.6" cy="541.7" r="2.3"/>
<circle cx="383.4" cy="553.7" r="2.3"/>
<circle cx="389.0" cy="575.4" r="2.3"/>
<circle cx="396.7" cy="576.2" r="2.3"/>
<circle cx="390.2" cy="585.0" r="2.3"/>
<circle cx="392.7" cy="616.8" r="2.3"/>
<circle cx="385.9" cy="622.1" r="2.3"/>
<circle cx="393.2" cy="626.9" r="2.3"/>
<circle cx="393.2" cy="638.8" r="2.3"/>
<circle cx="386.1" cy="645.0" r="2.3"/>
<circle cx="386.5" cy="657.5" r="2.3"/>
<circle cx="386.5" cy="666.0" r="2.3"/>
<circle cx="393.8" cy="673.5" r="2.3"/>
<circle cx="400.7" cy="673.5" r="2.3"/>
<circle cx="387.1" cy="682.2" r="2.3"/>
<circle cx="394.2" cy="682.4" r="2.3"/>
<circle cx="386.7" cy="691.2" r="2.3"/>
<circle cx="383.2" cy="706.5" r="2.3"/>
<circle cx="396.9" cy="704.4" r="2.3"/>
<circle cx="390.5" cy="716.2" r="2.3"/>
<circle cx="384.0" cy="720.0" r="2.3"/>
<circle cx="396.9" cy="722.3" r="2.3"/>
<circle cx="404.0" cy="719.6" r="2.3"/>
<circle cx="403.2" cy="732.4" r="2.3"/>
<circle cx="384.0" cy="739.4" r="2.3"/>
<circle cx="390.3" cy="738.8" r="2.3"/>
<circle cx="397.1" cy="737.1" r="2.3"/>
<circle cx="404.0" cy="742.1" r="2.3"/>
<circle cx="408.6" cy="738.7" r="2.3"/>
<circle cx="384.0" cy="748.8" r="2.3"/>
<circle cx="390.3" cy="753.1" r="2.3"/>
<circle cx="383.2" cy="759.4" r="2.3"/>
<circle cx="393.2" cy="759.8" r="2.3"/>
<circle cx="389.8" cy="763.1" r="2.3"/>
<circle cx="396.9" cy="764.6" r="2.3"/>
<circle cx="389.8" cy="771.9" r="2.3"/>
<circle cx="404.0" cy="774.8" r="2.3"/>
<circle cx="402.7" cy="786.4" r="2.3"/>
<circle cx="396.5" cy="789.4" r="2.3"/>
<circle cx="403.1" cy="792.4" r="2.3"/>
<circle cx="382.9" cy="795.3" r="2.3"/>
<circle cx="390.6" cy="796.2" r="2.3"/>
<circle cx="386.6" cy="805.8" r="2.3"/>
<circle cx="397.3" cy="807.1" r="2.3"/>
<circle cx="383.7" cy="810.0" r="2.3"/>
<circle cx="390.2" cy="810.9" r="2.3"/>
<circle cx="403.5" cy="810.7" r="2.3"/>
<circle cx="410.0" cy="810.3" r="2.3"/>
<circle cx="386.6" cy="813.9" r="2.3"/>
<circle cx="396.7" cy="813.9" r="2.3"/>
<circle cx="382.9" cy="818.0" r="2.3"/>
<circle cx="389.8" cy="818.0" r="2.3"/>
<circle cx="397.2" cy="829.0" r="2.3"/>
<circle cx="390.3" cy="832.5" r="2.3"/>
<circle cx="390.7" cy="841.9" r="2.3"/>
<circle cx="400.9" cy="846.7" r="2.3"/>
<circle cx="383.4" cy="851.5" r="2.3"/>
<circle cx="387.1" cy="867.9" r="2.3"/>
<circle cx="401.5" cy="867.7" r="2.3"/>
<circle cx="394.0" cy="874.4" r="2.3"/>
<circle cx="382.4" cy="919.5" r="2.3"/>
<circle cx="386.8" cy="920.6" r="2.3"/>
<circle cx="392.3" cy="920.0" r="2.3"/>
<circle cx="397.8" cy="920.6" r="2.3"/>
<circle cx="402.1" cy="920.6" r="2.3"/>
<circle cx="406.5" cy="920.0" r="2.3"/>
<circle cx="410.4" cy="919.5" r="2.3"/>
<circle cx="395.9" cy="915.3" r="2.3"/>
<circle cx="489.3" cy="409.8" r="2.3"/>
<circle cx="491.8" cy="495.8" r="2.3"/>
<circle cx="498.8" cy="529.0" r="2.3"/>
<circle cx="485.7" cy="550.6" r="2.3"/>
<circle cx="499.5" cy="572.7" r="2.3"/>
<circle cx="489.7" cy="578.5" r="2.3"/>
<circle cx="491.5" cy="588.3" r="2.3"/>
<circle cx="489.3" cy="596.3" r="2.3"/>
<circle cx="499.0" cy="596.3" r="2.3"/>
<circle cx="493.6" cy="604.1" r="2.3"/>
<circle cx="498.9" cy="604.3" r="2.3"/>
<circle cx="489.7" cy="632.7" r="2.3"/>
<circle cx="496.3" cy="639.0" r="2.3"/>
<circle cx="503.4" cy="638.1" r="2.3"/>
<circle cx="489.5" cy="645.2" r="2.3"/>
<circle cx="488.6" cy="652.3" r="2.3"/>
<circle cx="499.5" cy="651.0" r="2.3"/>
<circle cx="496.3" cy="658.3" r="2.3"/>
<circle cx="488.6" cy="665.8" r="2.3"/>
<circle cx="489.2" cy="683.8" r="2.3"/>
<circle cx="496.5" cy="682.5" r="2.3"/>
<circle cx="485.9" cy="695.0" r="2.3"/>
<circle cx="491.8" cy="693.7" r="2.3"/>
<circle cx="499.7" cy="691.2" r="2.3"/>
<circle cx="505.5" cy="700.2" r="2.3"/>
<circle cx="487.6" cy="713.3" r="2.3"/>
<circle cx="492.6" cy="709.8" r="2.3"/>
<circle cx="499.7" cy="707.9" r="2.3"/>
<circle cx="498.8" cy="717.3" r="2.3"/>
<circle cx="506.3" cy="721.7" r="2.3"/>
<circle cx="489.5" cy="744.4" r="2.3"/>
<circle cx="499.0" cy="742.7" r="2.3"/>
<circle cx="503.2" cy="749.2" r="2.3"/>
<circle cx="493.4" cy="752.7" r="2.3"/>
<circle cx="506.7" cy="762.3" r="2.3"/>
<circle cx="500.7" cy="766.2" r="2.3"/>
<circle cx="487.2" cy="771.0" r="2.3"/>
<circle cx="492.4" cy="773.8" r="2.3"/>
<circle cx="499.3" cy="775.8" r="2.3"/>
<circle cx="506.2" cy="777.9" r="2.3"/>
<circle cx="486.1" cy="802.1" r="2.3"/>
<circle cx="493.6" cy="801.3" r="2.3"/>
<circle cx="491.8" cy="812.7" r="2.3"/>
<circle cx="492.3" cy="822.0" r="2.3"/>
<circle cx="499.6" cy="822.0" r="2.3"/>
<circle cx="500.9" cy="828.6" r="2.3"/>
<circle cx="484.0" cy="856.2" r="2.3"/>
<circle cx="489.9" cy="873.6" r="2.3"/>
<circle cx="499.1" cy="873.6" r="2.3"/>
<circle cx="489.3" cy="887.1" r="2.3"/>
<circle cx="496.5" cy="895.5" r="2.3"/>
<circle cx="489.9" cy="902.9" r="2.3"/>
<circle cx="495.7" cy="905.2" r="2.3"/>
<circle cx="502.9" cy="903.3" r="2.3"/>
<circle cx="491.2" cy="908.8" r="2.3"/>
<circle cx="507.9" cy="907.4" r="2.3"/>
<circle cx="513.0" cy="906.8" r="2.3"/>
<circle cx="487.3" cy="912.4" r="2.3"/>
<circle cx="493.4" cy="912.2" r="2.3"/>
<circle cx="499.6" cy="910.7" r="2.3"/>
<circle cx="505.7" cy="911.3" r="2.3"/>
<circle cx="511.3" cy="911.8" r="2.3"/>
<circle cx="485.1" cy="916.3" r="2.3"/>
<circle cx="490.7" cy="915.7" r="2.3"/>
<circle cx="497.3" cy="916.3" r="2.3"/>
<circle cx="503.5" cy="915.7" r="2.3"/>
<circle cx="509.1" cy="916.9" r="2.3"/>
<circle cx="513.5" cy="915.2" r="2.3"/>
<circle cx="504.6" cy="919.6" r="2.3"/>
<circle cx="511.3" cy="919.6" r="2.3"/>
<circle cx="498.0" cy="908.3" r="2.3"/>
<circle cx="507.7" cy="917.8" r="2.3"/>
<circle cx="513.1" cy="918.5" r="2.3"/>
<circle cx="500.6" cy="913.6" r="2.3"/>
<circle cx="426.6" cy="221.7" r="2.3"/>
</g>
</svg></body></html>
